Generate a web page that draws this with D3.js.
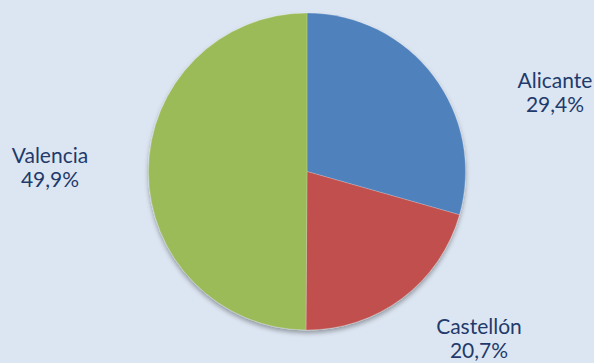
<!DOCTYPE html>
<html>
<head>
<meta charset="utf-8">
<script src="https://cdn.jsdelivr.net/npm/d3@7"></script>
<style>
  html, body { margin: 0; padding: 0; background: #dce6f2; }
  svg { display: block; }
</style>
</head>
<body>
<svg id="chart" width="594" height="363"></svg>
<script>
const categories = ["Alicante", "Castellón", "Valencia"];
const values = [29.4, 20.7, 49.9];
const valueLabels = ["29,4%", "20,7%", "49,9%"];
const colors = ["#4f81bd", "#c0504d", "#9bbb59"];

const W = 594, H = 363;
const cx = 307, cy = 171.5, r = 158.5;

const svg = d3.select("#chart");
svg.append("rect").attr("width", W).attr("height", H).attr("fill", "#dce6f2");

const defs = svg.append("defs");
const f = defs.append("filter").attr("id", "shadow").attr("x", "-20%").attr("y", "-20%").attr("width", "140%").attr("height", "140%");
f.append("feGaussianBlur").attr("in", "SourceAlpha").attr("stdDeviation", 2.5).attr("result", "blur");
f.append("feOffset").attr("in", "blur").attr("dx", 0).attr("dy", 3).attr("result", "off");
f.append("feComponentTransfer").attr("in", "off").attr("result", "sh")
  .append("feFuncA").attr("type", "linear").attr("slope", 0.35);
const fm = f.append("feMerge");
fm.append("feMergeNode").attr("in", "sh");
fm.append("feMergeNode").attr("in", "SourceGraphic");

const data = categories.map((c, i) => ({ name: c, value: values[i], label: valueLabels[i], color: colors[i] }));
const pie = d3.pie().sort(null).value(d => d.value).startAngle(0).endAngle(2 * Math.PI);
const arc = d3.arc().innerRadius(0).outerRadius(r);

const g = svg.append("g").attr("transform", `translate(${cx},${cy})`).attr("filter", "url(#shadow)");
g.selectAll("path").data(pie(data)).enter().append("path")
  .attr("d", arc)
  .attr("fill", d => d.data.color)
  .attr("stroke", "rgba(255,255,255,0.35)")
  .attr("stroke-width", 0.6);

// label anchor points (centre x, first-line baseline)
const labelPos = [[555, 88], [479, 334], [50, 163]];

const tg = svg.append("g");
data.forEach((d, i) => {
  const t = tg.append("text")
    .attr("x", labelPos[i][0])
    .attr("y", labelPos[i][1])
    .attr("text-anchor", "middle")
    .attr("font-family", "Lato, 'Open Sans', sans-serif")
    .attr("font-size", 21)
    .attr("fill", "#1f3a6b");
  t.append("tspan").attr("x", labelPos[i][0]).attr("dy", 0).text(d.name);
  t.append("tspan").attr("x", labelPos[i][0]).attr("dy", 24).text(d.label);
});
</script>
</body>
</html>
